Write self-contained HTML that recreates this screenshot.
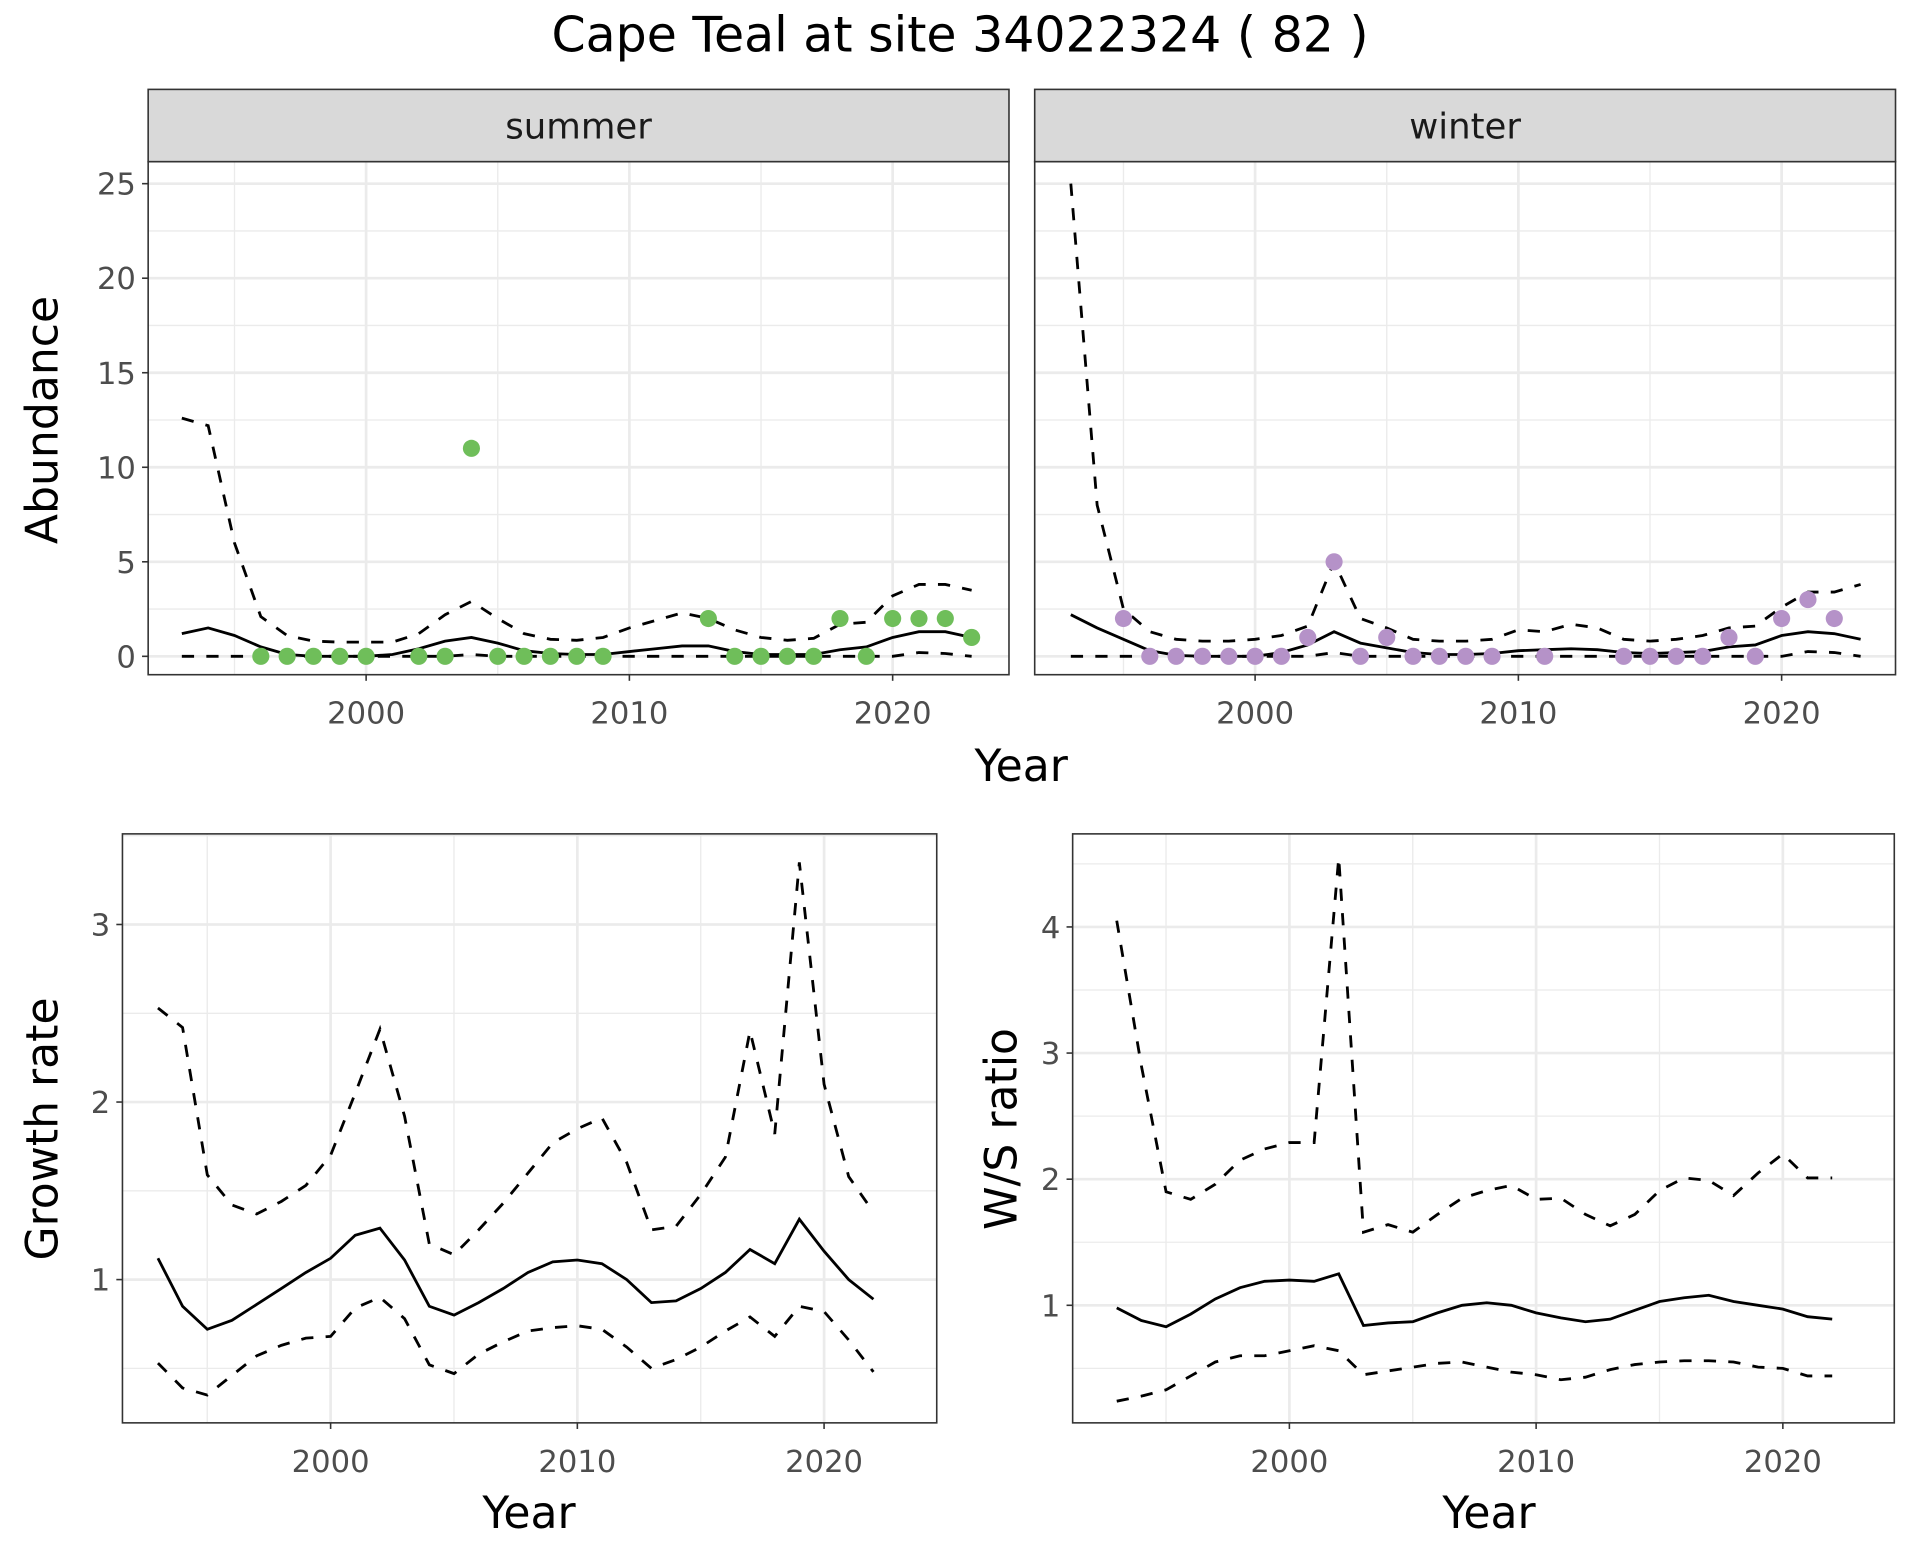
<!DOCTYPE html>
<html><head><meta charset="utf-8"><style>
html,body{margin:0;padding:0;background:#fff;}
svg{display:block;font-family:"DejaVu Sans","Liberation Sans",sans-serif;}
</style></head><body>
<svg id="chart" width="1920" height="1560" viewBox="0 0 1568 1274" preserveAspectRatio="none" xmlns="http://www.w3.org/2000/svg">
<text x="784" y="42" text-anchor="middle" font-size="40" fill="#000">Cape Teal at site 34022324 ( 82 )</text>
<g id="root"></g>
</svg>
<script>
const yearsTop = [1993,1994,1995,1996,1997,1998,1999,2000,2001,2002,2003,2004,2005,2006,2007,2008,2009,2010,2011,2012,2013,2014,2015,2016,2017,2018,2019,2020,2021,2022,2023];
const summerMean = [1.2,1.5,1.1,0.5,0.1,0.0,0.0,0.0,0.1,0.4,0.8,1.0,0.7,0.3,0.15,0.1,0.1,0.25,0.4,0.55,0.55,0.25,0.1,0.1,0.1,0.35,0.5,1.0,1.3,1.3,1.0];
const summerUpper = [12.6,12.2,6,2.1,1.1,0.8,0.75,0.75,0.75,1.2,2.2,2.9,2.0,1.2,0.9,0.85,1.0,1.5,1.9,2.3,2.0,1.4,1.0,0.85,0.95,1.7,1.8,3.2,3.8,3.8,3.5];
const summerLower = [0,0,0,0,0,0,0,0,0,0,0,0.1,0,0,0,0,0,0,0,0,0,0,0,0,0,0,0,0,0.2,0.15,0];
const summerPtYears = [1996,1997,1998,1999,2000,2002,2003,2004,2005,2006,2007,2008,2009,2013,2014,2015,2016,2017,2018,2019,2020,2021,2022,2023];
const summerPtVals = [0,0,0,0,0,0,0,11,0,0,0,0,0,2,0,0,0,0,2,0,2,2,2,1];
const winterMean = [2.2,1.5,0.9,0.3,0.05,0,0,0,0.2,0.6,1.3,0.7,0.45,0.2,0.1,0.1,0.15,0.3,0.35,0.4,0.35,0.2,0.15,0.2,0.25,0.5,0.6,1.1,1.3,1.2,0.9];
const winterUpper = [25,8,2.5,1.3,0.9,0.8,0.8,0.9,1.1,1.6,5.0,2.0,1.5,0.9,0.8,0.8,0.9,1.4,1.3,1.7,1.5,0.9,0.8,0.9,1.1,1.5,1.6,2.6,3.4,3.4,3.8];
const winterLower = [0,0,0,0,0,0,0,0,0,0,0.2,0,0,0,0,0,0,0,0,0,0,0,0,0,0,0,0,0,0.25,0.2,0];
const winterPtYears = [1995,1996,1997,1998,1999,2000,2001,2002,2003,2004,2005,2006,2007,2008,2009,2011,2014,2015,2016,2017,2018,2019,2020,2021,2022];
const winterPtVals = [2,0,0,0,0,0,0,1,5,0,1,0,0,0,0,0,0,0,0,0,1,0,2,3,2];
const yearsBot = [1993,1994,1995,1996,1997,1998,1999,2000,2001,2002,2003,2004,2005,2006,2007,2008,2009,2010,2011,2012,2013,2014,2015,2016,2017,2018,2019,2020,2021,2022];
const growthMean = [1.12,0.85,0.72,0.77,0.86,0.95,1.04,1.12,1.25,1.29,1.11,0.85,0.80,0.87,0.95,1.04,1.10,1.11,1.09,1.00,0.87,0.88,0.95,1.04,1.17,1.09,1.34,1.16,1.00,0.89];
const growthUpper = [2.53,2.42,1.59,1.42,1.37,1.44,1.53,1.70,2.05,2.41,1.92,1.20,1.14,1.28,1.43,1.60,1.77,1.85,1.91,1.66,1.28,1.30,1.48,1.69,2.40,1.82,3.35,2.10,1.58,1.38];
const growthLower = [0.53,0.39,0.35,0.46,0.57,0.63,0.67,0.68,0.84,0.90,0.78,0.52,0.47,0.58,0.65,0.71,0.73,0.74,0.72,0.62,0.50,0.55,0.62,0.71,0.79,0.68,0.85,0.82,0.66,0.48];
const wsMean = [0.98,0.88,0.83,0.93,1.05,1.14,1.19,1.20,1.19,1.25,0.84,0.86,0.87,0.94,1.00,1.02,1.00,0.94,0.90,0.87,0.89,0.96,1.03,1.06,1.08,1.03,1.00,0.97,0.91,0.89];
const wsUpper = [4.05,2.90,1.90,1.84,1.96,2.15,2.24,2.29,2.29,4.55,1.58,1.64,1.58,1.72,1.85,1.91,1.95,1.84,1.85,1.72,1.63,1.72,1.91,2.01,1.99,1.87,2.05,2.20,2.01,2.01];
const wsLower = [0.24,0.28,0.33,0.44,0.55,0.60,0.60,0.64,0.68,0.64,0.45,0.48,0.51,0.54,0.55,0.51,0.47,0.45,0.41,0.43,0.49,0.53,0.55,0.56,0.56,0.55,0.51,0.50,0.44,0.44];
const xTicks = [2000,2010,2020];
const xMinor = [1995,2005,2015];
const topYTicks = [0,5,10,15,20,25];
const growthTicks = [1,2,3];
const wsTicks = [1,2,3,4];

const NS="http://www.w3.org/2000/svg";
const root=document.getElementById('root');
function el(tag,attrs,parent){const e=document.createElementNS(NS,tag);for(const k in attrs)e.setAttribute(k,attrs[k]);(parent||root).appendChild(e);return e;}

function panel(cfg){
  const g=el('g',{});
  
  
  const sx=v=>cfg.x0+(v-cfg.xv0)*cfg.xs;
  const sy=v=>cfg.y0-(v-cfg.yv0)*cfg.ys;
  const clipId='c'+cfg.name;
  const cp=el('clipPath',{id:clipId},g);el('rect',{x:cfg.L,y:cfg.T,width:cfg.R-cfg.L,height:cfg.B-cfg.T},cp);
  cfg.yMinor.forEach(v=>{const y=sy(v);if(y>cfg.T&&y<cfg.B)el('line',{x1:cfg.L,x2:cfg.R,y1:y,y2:y,stroke:'#ebebeb','stroke-width':1.1},g);});
  xMinor.forEach(v=>{const x=sx(v);el('line',{x1:x,x2:x,y1:cfg.T,y2:cfg.B,stroke:'#ebebeb','stroke-width':1.1},g);});
  cfg.yTicks.forEach(v=>{const y=sy(v);el('line',{x1:cfg.L,x2:cfg.R,y1:y,y2:y,stroke:'#ebebeb','stroke-width':2.2},g);});
  xTicks.forEach(v=>{const x=sx(v);el('line',{x1:x,x2:x,y1:cfg.T,y2:cfg.B,stroke:'#ebebeb','stroke-width':2.2},g);});
  const cg=el('g',{'clip-path':'url(#'+clipId+')'},g);
  cfg.series.forEach(s=>{
    const d=s.ys.map((v,i)=>(i?'L':'M')+sx(s.xs[i]).toFixed(1)+','+sy(v).toFixed(1)).join('');
    const p=el('path',{d:d,fill:'none',stroke:'#000','stroke-width':2.3,'stroke-dasharray':s.dash?'10,10':'none'},cg);
    
    
  });
  if(cfg.pts){cfg.pts.xs.forEach((yr,i)=>{
    const c=el('circle',{cx:sx(yr),cy:sy(cfg.pts.vs[i]),r:7,fill:cfg.pts.color},g);
    
    
  });}
  el('rect',{x:cfg.L,y:cfg.T,width:cfg.R-cfg.L,height:cfg.B-cfg.T,fill:'none',stroke:'#333','stroke-width':1.3},g);
  if(cfg.showY){cfg.yTicks.forEach(v=>{const y=sy(v);el('line',{x1:cfg.L-5,x2:cfg.L,y1:y,y2:y,stroke:'#333','stroke-width':1.3},g);
    const t=el('text',{x:cfg.L-10,y:y+9,'text-anchor':'end','font-size':25,fill:'#4d4d4d'},g);t.textContent=v;
    });}
  xTicks.forEach(v=>{const x=sx(v);el('line',{x1:x,x2:x,y1:cfg.B,y2:cfg.B+5,stroke:'#333','stroke-width':1.3},g);
    const t=el('text',{x:x,y:cfg.B+40,'text-anchor':'middle','font-size':25,fill:'#4d4d4d'},g);t.textContent=v;
    });
  if(cfg.strip){el('rect',{x:cfg.L,y:73,width:cfg.R-cfg.L,height:59,fill:'#d9d9d9',stroke:'#333','stroke-width':1.3},g);
    const t=el('text',{x:(cfg.L+cfg.R)/2,y:113,'text-anchor':'middle','font-size':29,fill:'#1a1a1a'},g);t.textContent=cfg.strip;
    }
}
const minorTop=[2.5,7.5,12.5,17.5,22.5];
panel({name:'summer-panel',L:121,R:824,T:132,B:551,x0:299,xv0:2000,xs:21.5,y0:536,yv0:0,ys:15.44,yTicks:topYTicks,yMinor:minorTop,showY:true,strip:'summer',
  series:[{name:'summer-mean-line',xs:yearsTop,ys:summerMean},{name:'summer-upper-line',xs:yearsTop,ys:summerUpper,dash:1},{name:'summer-lower-line',xs:yearsTop,ys:summerLower,dash:1}],
  pts:{xs:summerPtYears,vs:summerPtVals,color:'#6fbe5a'}});
panel({name:'winter-panel',L:845,R:1548,T:132,B:551,x0:1025,xv0:2000,xs:21.5,y0:536,yv0:0,ys:15.44,yTicks:topYTicks,yMinor:minorTop,showY:false,strip:'winter',
  series:[{name:'winter-mean-line',xs:yearsTop,ys:winterMean},{name:'winter-upper-line',xs:yearsTop,ys:winterUpper,dash:1},{name:'winter-lower-line',xs:yearsTop,ys:winterLower,dash:1}],
  pts:{xs:winterPtYears,vs:winterPtVals,color:'#b592c8'}});
panel({name:'growth-panel',L:100,R:765,T:681,B:1162,x0:270,xv0:2000,xs:20.15,y0:1045,yv0:1,ys:145,yTicks:growthTicks,yMinor:[0.5,1.5,2.5,3.5],showY:true,
  series:[{name:'growth-mean-line',xs:yearsBot,ys:growthMean},{name:'growth-upper-line',xs:yearsBot,ys:growthUpper,dash:1},{name:'growth-lower-line',xs:yearsBot,ys:growthLower,dash:1}]});
panel({name:'ws-panel',L:876,R:1547,T:681,B:1162,x0:1053,xv0:2000,xs:20.15,y0:1066,yv0:1,ys:103,yTicks:wsTicks,yMinor:[0.5,1.5,2.5,3.5,4.5],showY:true,
  series:[{name:'ws-mean-line',xs:yearsBot,ys:wsMean},{name:'ws-upper-line',xs:yearsBot,ys:wsUpper,dash:1},{name:'ws-lower-line',xs:yearsBot,ys:wsLower,dash:1}]});

function label(txt,x,y,rot,name){const t=el('text',{x:x,y:y,'text-anchor':'middle','font-size':36,fill:'#000',transform:rot?'rotate(-90 '+x+' '+y+')':''});t.textContent=txt;
  }
label('Year',834,638,false,'top-x-axis-title');
label('Abundance',47,343,true,'abundance-y-axis-title');
label('Year',432,1248,false,'growth-x-axis-title');
label('Growth rate',47,922,true,'growth-y-axis-title');
label('Year',1216,1248,false,'ws-x-axis-title');
label('W/S ratio',830,922,true,'ws-y-axis-title');
</script>
</body></html>
